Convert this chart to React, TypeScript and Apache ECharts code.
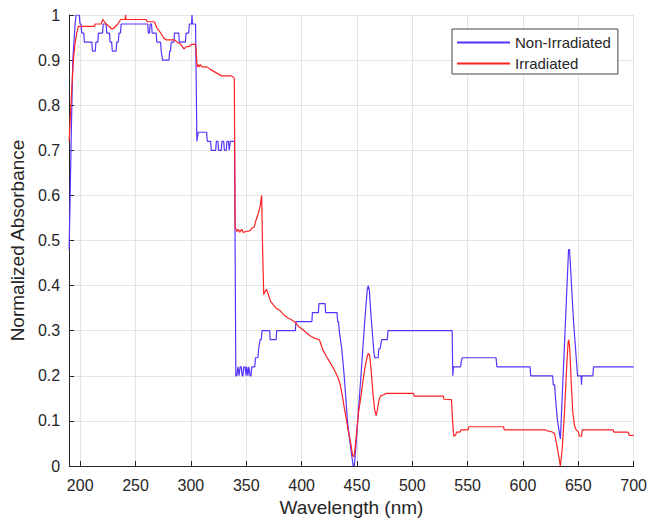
import { useEffect, useRef } from "react";
import * as echarts from "echarts";

const FONT = '"Liberation Sans", Arial, Helvetica, sans-serif';
const TEXT_COLOR = "#262626";
const AXIS_COLOR = "#262626";
const GRID_COLOR = "#e4e4e4";

const seriesNames = ["Non-Irradiated", "Irradiated"];
const seriesColors = ["#5533ff", "#ff2222"];

const xTicks = [200, 250, 300, 350, 400, 450, 500, 550, 600, 650, 700];

// [wavelength (nm), normalized absorbance]
const nonIrradiated: [number, number][] = [
  [190, 0.48], [191.8, 0.72], [193.3, 0.9], [195.4, 0.98], [196.3, 1.0], [199.2, 1.0],
  [199.8, 0.98], [200.8, 0.98], [201.4, 0.96], [203.2, 0.96], [203.8, 0.94], [210.5, 0.94],
  [211.0, 0.92], [213.6, 0.92], [214.2, 0.94], [215.9, 0.94], [216.5, 0.96], [220.2, 0.96],
  [220.8, 0.98], [223.4, 0.98], [224.0, 0.96], [226.4, 0.96], [227.0, 0.94], [228.4, 0.94],
  [229.0, 0.92], [232.4, 0.92], [233.0, 0.94], [234.4, 0.94], [235.0, 0.96], [236.4, 0.96],
  [237.0, 0.98], [261.0, 0.98], [261.6, 0.96], [262.6, 0.96], [263.2, 0.98], [264.4, 0.98],
  [265.0, 0.96], [268.6, 0.96], [269.2, 0.94], [272.6, 0.94], [273.2, 0.92], [273.8, 0.92],
  [274.4, 0.9], [280.2, 0.9], [280.8, 0.92], [281.6, 0.92], [282.2, 0.94], [284.6, 0.94],
  [285.2, 0.96], [289.0, 0.96], [289.6, 0.94], [295.0, 0.94], [295.6, 0.96], [298.0, 0.96],
  [298.6, 0.98], [300.6, 0.98], [301.0, 1.0], [301.4, 0.98], [304.2, 0.98], [305.4, 0.72],
  [306.0, 0.72], [306.6, 0.74], [314.2, 0.74], [314.8, 0.72], [317.8, 0.72], [318.4, 0.7],
  [322.4, 0.7], [323.0, 0.72], [324.4, 0.72], [325.0, 0.7], [327.4, 0.7], [328.0, 0.72],
  [329.6, 0.72], [330.2, 0.7], [332.0, 0.7], [332.5, 0.72], [334.0, 0.72], [334.6, 0.7],
  [335.2, 0.7], [335.6, 0.72], [339.4, 0.72], [340.6, 0.2], [341.5, 0.2], [342.5, 0.22],
  [343.5, 0.2], [344.5, 0.22], [345.5, 0.22], [346.3, 0.2], [347.0, 0.2], [347.8, 0.22],
  [349.0, 0.22], [349.8, 0.2], [350.5, 0.22], [351.5, 0.2], [352.3, 0.22], [353.5, 0.2],
  [354.3, 0.2], [355.0, 0.22], [357.7, 0.22], [358.3, 0.24], [360.5, 0.24], [361.2, 0.26],
  [362.5, 0.28], [363.5, 0.28], [364.3, 0.3], [371.2, 0.3], [371.6, 0.28], [377.0, 0.28],
  [377.5, 0.3], [394.4, 0.3], [394.9, 0.32], [409.3, 0.32], [409.8, 0.34], [415.2, 0.34],
  [415.7, 0.36], [421.2, 0.36], [421.7, 0.34], [432.0, 0.34], [432.6, 0.32], [433.4, 0.32],
  [434.0, 0.3], [436.3, 0.26], [438.5, 0.2], [441.4, 0.1], [444.4, 0.04], [446.6, 0.0],
  [447.6, 0.0], [449.0, 0.04], [451.3, 0.12], [454.2, 0.22], [457.0, 0.32], [459.3, 0.39],
  [460.2, 0.4], [461.2, 0.39], [462.5, 0.34], [463.8, 0.3], [465.4, 0.25], [466.2, 0.24],
  [469.2, 0.24], [469.8, 0.26], [471.0, 0.26], [471.6, 0.27], [472.4, 0.28], [477.4, 0.28],
  [478.0, 0.3], [536.0, 0.3], [536.6, 0.2], [537.2, 0.22], [543.7, 0.22], [544.2, 0.23],
  [544.6, 0.23], [545.0, 0.24], [575.7, 0.24], [576.4, 0.22], [606.4, 0.22], [607.0, 0.2],
  [626.8, 0.2], [627.4, 0.18], [628.6, 0.18], [629.4, 0.15], [631.2, 0.1], [633.8, 0.06],
  [637.5, 0.27], [641.2, 0.48], [642.1, 0.48], [645.7, 0.32], [649.3, 0.2], [652.5, 0.2],
  [652.9, 0.18], [653.3, 0.2], [663.2, 0.2], [663.7, 0.22], [700, 0.22],
];

const irradiated: [number, number][] = [
  [190, 0.72], [192.0, 0.82], [193.8, 0.9], [195.5, 0.94], [196.9, 0.96], [198.3, 0.975],
  [213.0, 0.975], [213.6, 0.98], [219.0, 0.98], [220.5, 0.99], [222.0, 0.985], [223.5, 0.98],
  [226.0, 0.975], [228.0, 0.97], [230.0, 0.97], [232.0, 0.975], [234.0, 0.98], [236.5, 0.99],
  [240.6, 0.99], [241.0, 1.0], [241.4, 0.99], [259.5, 0.99], [260.5, 0.985], [267.0, 0.985],
  [269.6, 0.97], [272.9, 0.96], [275.0, 0.95], [277.4, 0.945], [284.8, 0.945], [287.5, 0.94],
  [290.8, 0.935], [293.8, 0.925], [296.0, 0.93], [298.3, 0.93], [301.0, 0.935], [304.3, 0.935],
  [305.7, 0.885], [306.5, 0.89], [307.5, 0.885], [308.5, 0.89], [310.0, 0.885], [314.4, 0.885],
  [317.1, 0.88], [320.6, 0.875], [324.2, 0.87], [327.8, 0.865], [336.7, 0.865], [339.2, 0.86],
  [340.0, 0.53], [341.5, 0.52], [343.0, 0.525], [344.0, 0.518], [346.0, 0.525], [347.0, 0.518],
  [350.0, 0.52], [353.5, 0.522], [355.0, 0.527], [357.3, 0.53], [358.8, 0.545], [360.9, 0.56],
  [362.5, 0.575], [363.9, 0.6], [364.8, 0.48], [365.8, 0.38], [366.6, 0.385], [368.3, 0.392],
  [370.0, 0.38], [372.0, 0.365], [374.3, 0.358], [377.0, 0.35], [380.3, 0.345], [384.0, 0.335],
  [387.8, 0.328], [390.5, 0.325], [393.7, 0.32], [397.0, 0.31], [401.2, 0.302], [404.5, 0.295],
  [408.6, 0.287], [412.0, 0.283], [416.1, 0.28], [417.5, 0.27], [419.1, 0.258], [422.0, 0.245],
  [425.1, 0.232], [428.0, 0.22], [431.0, 0.206], [433.0, 0.195], [434.6, 0.184], [436.5, 0.16],
  [438.5, 0.13], [440.0, 0.11], [442.0, 0.08], [444.4, 0.05], [446.0, 0.025], [447.0, 0.02],
  [448.0, 0.03], [449.5, 0.07], [451.5, 0.12], [453.4, 0.15], [455.0, 0.18], [457.0, 0.215],
  [459.0, 0.24], [460.2, 0.25], [461.5, 0.245], [462.9, 0.21], [464.5, 0.16], [466.0, 0.125],
  [467.4, 0.112], [468.5, 0.125], [469.8, 0.145], [471.2, 0.155], [474.0, 0.158], [476.5, 0.161],
  [501.1, 0.161], [501.7, 0.155], [528.0, 0.155], [528.6, 0.148], [535.4, 0.147], [536.4, 0.1],
  [537.5, 0.066], [539.0, 0.068], [540.0, 0.075], [543.0, 0.075], [544.0, 0.08], [550.4, 0.08],
  [551.0, 0.087], [582.5, 0.087], [583.1, 0.08], [620.4, 0.08], [622.0, 0.078], [626.0, 0.076],
  [628.5, 0.072], [630.3, 0.05], [632.3, 0.022], [633.8, 0.0], [635.5, 0.04], [637.5, 0.12],
  [639.5, 0.22], [640.8, 0.275], [641.4, 0.28], [642.3, 0.26], [643.5, 0.19], [645.0, 0.12],
  [646.5, 0.09], [648.1, 0.08], [650.2, 0.075], [651.0, 0.066], [653.0, 0.066], [653.4, 0.08],
  [681.5, 0.08], [682.0, 0.075], [695.0, 0.075], [696.0, 0.068], [700, 0.068],
];

export default function App() {
  const ref = useRef<HTMLDivElement>(null);

  useEffect(() => {
    if (!ref.current) return;
    const chart = echarts.init(ref.current, null, { renderer: "svg" });

    const axisText = { color: TEXT_COLOR, fontFamily: FONT, fontSize: 16 };
    const nameText = { color: TEXT_COLOR, fontFamily: FONT, fontSize: 19 };

    chart.setOption({
      animation: false,
      backgroundColor: "#ffffff",
      grid: { left: 64, right: 16, top: 15, bottom: 57, containLabel: false },
      legend: {
        orient: "vertical",
        left: 452,
        top: 29,
        data: seriesNames,
        itemWidth: 53,
        itemHeight: 14,
        itemGap: 6,
        padding: [6, 7, 3, 4],
        borderColor: "#444444",
        borderWidth: 1,
        backgroundColor: "#ffffff",
        // line-only legend keys (no marker dot)
        itemStyle: { opacity: 0 },
        textStyle: { color: TEXT_COLOR, fontFamily: FONT, fontSize: 15 },
      },
      xAxis: {
        type: "value",
        min: 190,
        max: 700,
        name: "Wavelength (nm)",
        nameLocation: "middle",
        nameGap: 32,
        nameTextStyle: nameText,
        axisLine: { show: true, onZero: false, lineStyle: { color: AXIS_COLOR, width: 1 } },
        axisTick: {
          show: true,
          inside: true,
          length: 5,
          customValues: xTicks,
          lineStyle: { color: AXIS_COLOR },
        },
        axisLabel: { ...axisText, margin: 11, customValues: xTicks },
        splitLine: { show: true, lineStyle: { color: GRID_COLOR, width: 1 } },
      },
      yAxis: {
        type: "value",
        min: 0,
        max: 1,
        interval: 0.1,
        name: "Normalized Absorbance",
        nameLocation: "middle",
        nameGap: 39,
        nameTextStyle: nameText,
        axisLine: { show: true, lineStyle: { color: AXIS_COLOR, width: 1 } },
        axisTick: { show: true, inside: true, length: 5, lineStyle: { color: AXIS_COLOR } },
        axisLabel: {
          ...axisText,
          margin: 9,
          formatter: (v: number) => String(Number(v.toFixed(1))),
        },
        splitLine: { show: true, lineStyle: { color: GRID_COLOR, width: 1 } },
      },
      series: [
        {
          name: seriesNames[0],
          type: "line",
          data: nonIrradiated,
          symbol: "none",
          showSymbol: false,
          color: seriesColors[0],
          lineStyle: { color: seriesColors[0], width: 1.2 },
        },
        {
          name: seriesNames[1],
          type: "line",
          data: irradiated,
          symbol: "none",
          showSymbol: false,
          color: seriesColors[1],
          lineStyle: { color: seriesColors[1], width: 1.2 },
        },
      ],
    });

    return () => chart.dispose();
  }, []);

  return (
    <div
      ref={ref}
      style={{ position: "fixed", left: 0, top: 0, width: 650, height: 523 }}
    />
  );
}
